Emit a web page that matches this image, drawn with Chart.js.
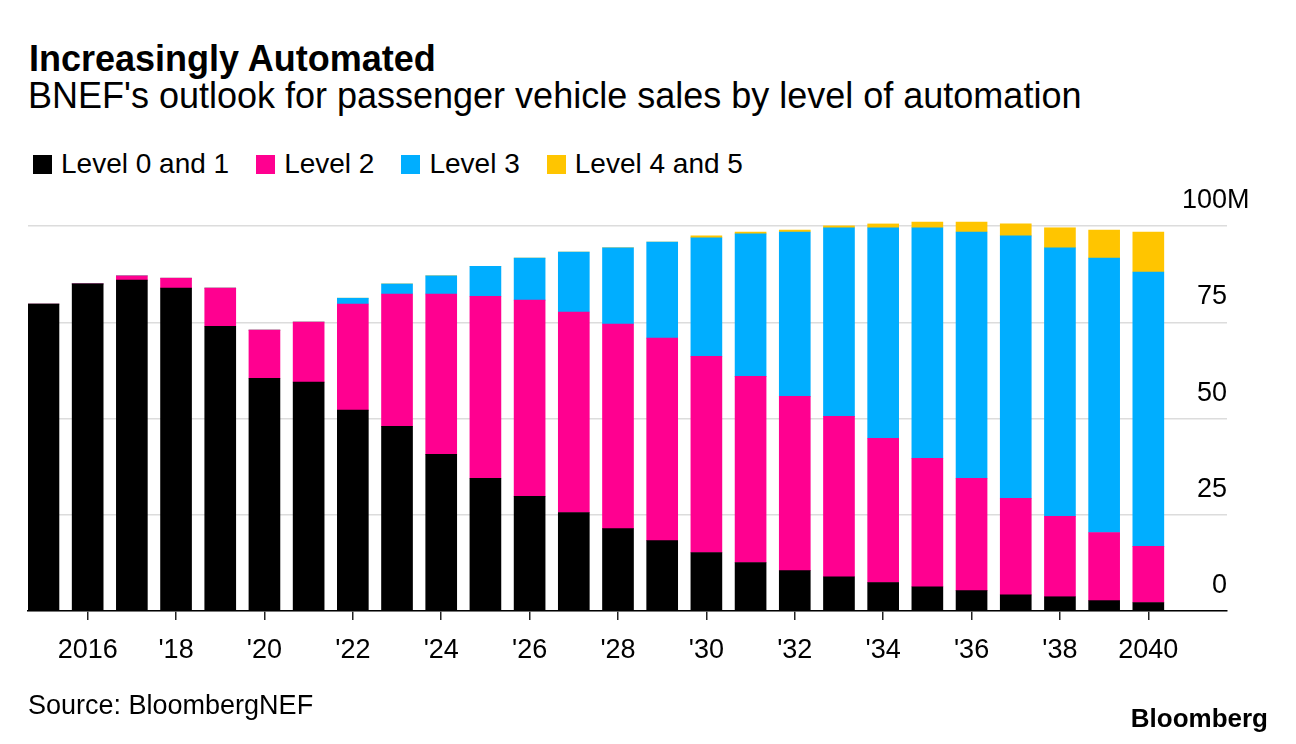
<!DOCTYPE html>
<html>
<head>
<meta charset="utf-8">
<script src="https://cdn.jsdelivr.net/npm/chart.js@4.4.1/dist/chart.umd.min.js"></script>
<style>
  html, body { margin: 0; padding: 0; background: #fff; }
  body { width: 1296px; height: 744px; position: relative; overflow: hidden;
         font-family: "Liberation Sans", Arial, sans-serif; color: #000; }
  #wrap { position: absolute; left: 0; top: 0; width: 1296px; height: 744px; }
  .txt { position: absolute; white-space: nowrap; line-height: 1; }
  #title { left: 29px; top: 41px; font-size: 36px; font-weight: bold; }
  #subtitle { left: 28px; top: 78px; font-size: 36px; }
  #legend { position: absolute; left: 33px; top: 150px; display: flex; font-size: 28px; line-height: 1; }
  #legend .item { display: flex; align-items: center; margin-right: 27px; }
  #legend .box { width: 19px; height: 19px; margin-right: 9px; }
  #source { left: 28px; top: 692px; font-size: 27px; }
  #logo { right: 28px; top: 705px; font-size: 26px; font-weight: bold; }
</style>
</head>
<body>
<div class="txt" id="title">Increasingly Automated</div>
<div class="txt" id="subtitle">BNEF's outlook for passenger vehicle sales by level of automation</div>
<div id="legend"></div>
<div id="wrap"><canvas id="chart"></canvas></div>
<div class="txt" id="source">Source: BloombergNEF</div>
<div class="txt" id="logo">Bloomberg</div>

<script>
// Años y ventas (millones de vehículos) por nivel de automatización
const years = [2015, 2016, 2017, 2018, 2019, 2020, 2021, 2022, 2023, 2024, 2025, 2026, 2027,
               2028, 2029, 2030, 2031, 2032, 2033, 2034, 2035, 2036, 2037, 2038, 2039, 2040];

const level01 = [79.8, 85.0, 86.0, 83.9, 74.0, 60.5, 59.5, 52.2, 48.0, 40.7, 34.5, 29.8, 25.6,
                 21.4, 18.3, 15.2, 12.6, 10.5, 8.9, 7.4, 6.3, 5.3, 4.2, 3.7, 2.7, 2.2];
const level2 = [0, 0, 1.1, 2.6, 9.9, 12.5, 15.6, 27.6, 34.4, 41.7, 47.3, 51.0, 52.1,
                53.2, 52.6, 51.0, 48.4, 45.3, 41.7, 37.5, 33.4, 29.2, 25.1, 20.9, 17.7, 14.6];
const level3 = [0, 0, 0, 0, 0, 0, 0, 1.5, 2.6, 4.7, 7.8, 10.9, 15.6,
                19.8, 25.0, 30.8, 37.0, 42.7, 49.0, 54.7, 59.9, 64.0, 68.2, 69.8, 71.3, 71.3];
const level45 = [0, 0, 0, 0, 0, 0, 0, 0, 0, 0, 0, 0, 0,
                 0, 0, 0.5, 0.5, 0.5, 0.5, 1.0, 1.5, 2.6, 3.1, 5.2, 7.3, 10.4];

const seriesNames = ['Level 0 and 1', 'Level 2', 'Level 3', 'Level 4 and 5'];
const seriesColors = ['#000000', '#ff0090', '#00aeff', '#ffc500'];

const xTickYears = [2016, 2018, 2020, 2022, 2024, 2026, 2028, 2030, 2032, 2034, 2036, 2038, 2040];
const xTickLabels = ['2016', "'18", "'20", "'22", "'24", "'26", "'28", "'30", "'32", "'34", "'36", "'38", '2040'];
const yTicks = [0, 25, 50, 75, 100];
const yUnit = 'M';

const FONT = '"Liberation Sans", Arial, sans-serif';

// Leyenda en HTML
const legendEl = document.getElementById('legend');
seriesNames.forEach((name, i) => {
    const item = document.createElement('div');
    item.className = 'item';
    item.innerHTML = `<span class="box" style="background:${seriesColors[i]}"></span><span>${name}</span>`;
    legendEl.appendChild(item);
});

// Etiquetas del eje Y encima de las líneas, alineadas a la derecha
const yLabelPlugin = {
    id: 'yLabels',
    afterDraw(chart) {
        const { ctx, chartArea, scales } = chart;
        ctx.save();
        ctx.font = `27px ${FONT}`;
        ctx.fillStyle = '#000';
        ctx.textBaseline = 'alphabetic';
        yTicks.forEach((v, i) => {
            const py = scales.y.getPixelForValue(v) - 18;
            ctx.textAlign = 'right';
            ctx.fillText(String(v), chartArea.right, py);
            if (i === yTicks.length - 1) {
                ctx.textAlign = 'left';
                ctx.fillText(yUnit, chartArea.right, py);
            }
        });
        ctx.restore();
    }
};

const allSeries = [level01, level2, level3, level45];

new Chart(document.getElementById('chart').getContext('2d'), {
    type: 'bar',
    plugins: [yLabelPlugin],
    data: {
        datasets: allSeries.map((vals, i) => ({
            label: seriesNames[i],
            data: years.map((yr, j) => ({ x: yr, y: vals[j] })),
            backgroundColor: seriesColors[i],
            borderWidth: 0,
            barThickness: 31
        }))
    },
    options: {
        responsive: true,
        maintainAspectRatio: false,
        animation: false,
        events: [],
        layout: { padding: { top: 207, left: 28, right: 69, bottom: 33 } },
        plugins: { legend: { display: false }, tooltip: { enabled: false } },
        scales: {
            x: {
                type: 'linear',
                stacked: true,
                offset: false,
                min: 2014.65,
                max: 2041.78,
                afterBuildTicks: axis => { axis.ticks = xTickYears.map(v => ({ value: v })); },
                afterFit: axis => { axis.height = 100; },
                grid: { offset: false, drawOnChartArea: false, drawTicks: true, tickLength: 9, color: '#222', lineWidth: 1.5 },
                border: { display: true, color: '#000', width: 1.5 },
                ticks: {
                    autoSkip: false,
                    maxRotation: 0,
                    padding: 14,
                    color: '#000',
                    font: { family: FONT, size: 27 },
                    callback: v => {
                        const k = xTickYears.indexOf(v);
                        return k >= 0 ? xTickLabels[k] : '';
                    }
                }
            },
            y: {
                position: 'right',
                stacked: true,
                min: 0,
                max: 105,
                afterBuildTicks: axis => { axis.ticks = yTicks.map(v => ({ value: v })); },
                afterFit: axis => { axis.width = 0; },
                grid: { color: '#dcdcdc', lineWidth: 1.5, drawTicks: false },
                border: { display: false },
                ticks: { display: false }
            }
        }
    }
});
</script>
</body>
</html>
